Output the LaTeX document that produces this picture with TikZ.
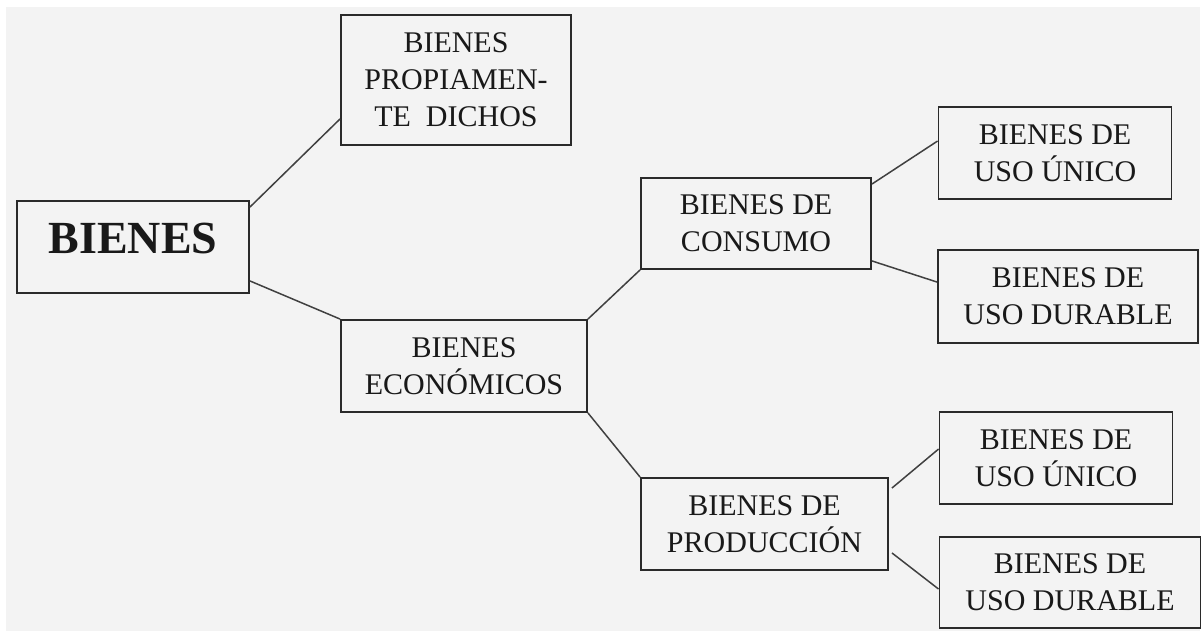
\documentclass[tikz,border=0pt]{standalone}
\usepackage{fontspec}
\setmainfont{Liberation Serif}
\usetikzlibrary{calc}
\definecolor{bg}{HTML}{F3F3F3}
\definecolor{edgec}{HTML}{2A2A2A}
\definecolor{connc}{HTML}{404040}
\begin{document}
\begin{tikzpicture}[x=1pt,y=-1pt,
  box/.style={draw=edgec,line width=1.9pt,fill=bg,inner sep=0pt,align=center,
    font=\fontsize{30}{37}\selectfont,text=black!90},
  conn/.style={draw=connc,line width=1.5pt}]
\useasboundingbox (0,0) rectangle (1204,631);
\fill[white] (0,0) rectangle (1204,631);
\fill[bg] (6,7) rectangle (1200,631);
\node[box,minimum width=232pt,minimum height=92pt,
  font=\fontsize{46}{50}\selectfont\bfseries,text height=32pt,text depth=20pt] (bienes) at (133,247) {BIENES};
\node[box,minimum width=230pt,minimum height=130pt] (prop) at (456,80) {BIENES\\PROPIAMEN-\\TE~~DICHOS};
\node[box,minimum width=246pt,minimum height=92pt] (econ) at (464,366) {BIENES\\ECONÓMICOS};
\node[box,minimum width=230pt,minimum height=91pt] (cons) at (756,223.5) {BIENES DE\\CONSUMO};
\node[box,minimum width=247pt,minimum height=92pt] (prod) at (764.5,524) {BIENES DE\\PRODUCCIÓN};
\node[box,minimum width=233pt,minimum height=92pt] (u1) at (1055,153) {BIENES DE\\USO ÚNICO};
\node[box,minimum width=260pt,minimum height=93pt] (d1) at (1068,296.5) {BIENES DE\\USO DURABLE};
\node[box,minimum width=233pt,minimum height=92pt] (u2) at (1056,458) {BIENES DE\\USO ÚNICO};
\node[box,minimum width=261pt,minimum height=91pt] (d2) at (1070,582.5) {BIENES DE\\USO DURABLE};
\draw[conn] ($(bienes.north east)+(0,7)$) -- ($(prop.south west)+(0,-27)$);
\draw[conn] ($(bienes.south east)+(0,-13)$) -- (econ.north west);
\draw[conn] (econ.north east) -- (cons.south west);
\draw[conn] (econ.south east) -- (prod.north west);
\draw[conn] ($(cons.north east)+(0,7)$) -- ($(u1.north west)+(0,35)$);
\draw[conn] ($(cons.south east)+(0,-9)$) -- ($(d1.north west)+(0,33)$);
\draw[conn] ($(prod.north east)+(3,11)$) -- ($(u2.north west)+(0,38)$);
\draw[conn] ($(prod.south east)+(3,-18)$) -- ($(d2.north west)+(0,53)$);
\end{tikzpicture}
\end{document}
